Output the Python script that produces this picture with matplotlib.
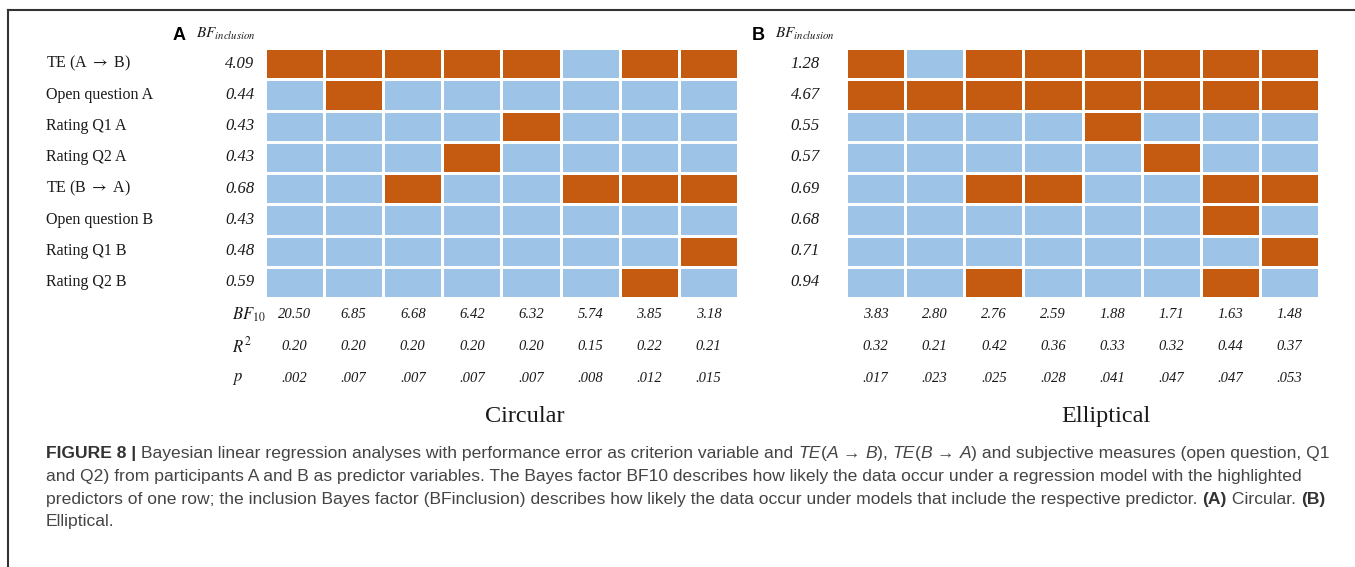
import numpy as np
import matplotlib
matplotlib.use("Agg")
import matplotlib.pyplot as plt
from matplotlib.colors import ListedColormap
from matplotlib.lines import Line2D

plt.rcParams['mathtext.fontset'] = 'stix'

# predictors (rows) and models (columns)
predictors = [r"TE (A $\rightarrow$ B)", "Open question A", "Rating Q1 A", "Rating Q2 A",
              r"TE (B $\rightarrow$ A)", "Open question B", "Rating Q1 B", "Rating Q2 B"]

# panel A: circular
incl_a = [[1, 1, 1, 1, 1, 0, 1, 1],
          [0, 1, 0, 0, 0, 0, 0, 0],
          [0, 0, 0, 0, 1, 0, 0, 0],
          [0, 0, 0, 1, 0, 0, 0, 0],
          [0, 0, 1, 0, 0, 1, 1, 1],
          [0, 0, 0, 0, 0, 0, 0, 0],
          [0, 0, 0, 0, 0, 0, 0, 1],
          [0, 0, 0, 0, 0, 0, 1, 0]]
bf_incl_a = [4.09, 0.44, 0.43, 0.43, 0.68, 0.43, 0.48, 0.59]
bf10_a = [20.50, 6.85, 6.68, 6.42, 6.32, 5.74, 3.85, 3.18]
r2_a = [0.20, 0.20, 0.20, 0.20, 0.20, 0.15, 0.22, 0.21]
p_a = [.002, .007, .007, .007, .007, .008, .012, .015]

# panel B: elliptical
incl_b = [[1, 0, 1, 1, 1, 1, 1, 1],
          [1, 1, 1, 1, 1, 1, 1, 1],
          [0, 0, 0, 0, 1, 0, 0, 0],
          [0, 0, 0, 0, 0, 1, 0, 0],
          [0, 0, 1, 1, 0, 0, 1, 1],
          [0, 0, 0, 0, 0, 0, 1, 0],
          [0, 0, 0, 0, 0, 0, 0, 1],
          [0, 0, 1, 0, 0, 0, 1, 0]]
bf_incl_b = [1.28, 4.67, 0.55, 0.57, 0.69, 0.68, 0.71, 0.94]
bf10_b = [3.83, 2.80, 2.76, 2.59, 1.88, 1.71, 1.63, 1.48]
r2_b = [0.32, 0.21, 0.42, 0.36, 0.33, 0.32, 0.44, 0.37]
p_b = [.017, .023, .025, .028, .041, .047, .047, .053]

ORANGE = '#C55A11'
BLUE = '#9DC3E6'
cmap = ListedColormap([BLUE, ORANGE])
SERIF = ['Liberation Serif', 'DejaVu Serif']
SANS = ['Liberation Sans', 'DejaVu Sans']
TXT = '#1a1a1a'

W, H = 1355, 567
fig = plt.figure(figsize=(W / 100, H / 100), dpi=100)


def fx(px):
    return px / W


def fy(py):
    return 1 - py / H


def panel(left_px, incl, bf_incl, bf10, r2, pv, title, letter, letter_px, row_names, show_row_labels):
    ax = fig.add_axes([fx(left_px), fy(298), fx(473), 250 / H])
    m = np.array(incl)
    ax.pcolormesh(np.arange(9), np.arange(9), m, cmap=cmap, vmin=0, vmax=1,
                  edgecolors='white', linewidth=1.0)
    ax.set_xlim(0, 8)
    ax.set_ylim(8, 0)
    ax.axis('off')
    ytr = ax.get_yaxis_transform()
    for i, v in enumerate(bf_incl):
        ax.text(-0.023 if show_row_labels else -0.055, i + 0.5, f"{v:.2f}", transform=ytr,
                ha='right', va='center', fontsize=12, style='italic', family=SERIF, color=TXT)
        if show_row_labels:
            ax.text(-0.463, i + 0.5, row_names[i], transform=ytr, ha='left', va='center',
                    fontsize=11.5, family=SERIF, color=TXT)
    cols = np.arange(8) + 0.5
    for j in range(8):
        ax.text(cols[j], 8.53, f"{bf10[j]:.2f}", ha='center', va='center', fontsize=10.5,
                style='italic', family=SERIF, color=TXT)
        ax.text(cols[j], 9.55, f"{r2[j]:.2f}", ha='center', va='center', fontsize=10.5,
                style='italic', family=SERIF, color=TXT)
        ax.text(cols[j], 10.57, f"{pv[j]:.3f}".lstrip('0'), ha='center', va='center',
                fontsize=10.5, style='italic', family=SERIF, color=TXT)
    if show_row_labels:
        ax.text(-0.07, 8.53, r'$BF_{10}$', transform=ytr, ha='left', va='center', fontsize=12, color=TXT)
        ax.text(-0.07, 9.55, r'$R^2$', transform=ytr, ha='left', va='center', fontsize=12, color=TXT)
        ax.text(-0.07, 10.57, r'$p$', transform=ytr, ha='left', va='center', fontsize=12, color=TXT)
    ax.text(4.39, 11.8, title, ha='center', va='center', fontsize=17.5, family=SERIF, color=TXT)
    fig.text(fx(letter_px), fy(35), letter, ha='left', va='center', fontsize=13,
             weight='bold', family=SANS, color='black')
    fig.text(fx(letter_px + 23), fy(34), r'$BF_{inclusion}$', ha='left', va='center',
             fontsize=11, color=TXT)
    return ax


panel(265, incl_a, bf_incl_a, bf10_a, r2_a, p_a, "Circular", "A", 173, predictors, True)
panel(846, incl_b, bf_incl_b, bf10_b, r2_b, p_b, "Elliptical", "B", 752, predictors, False)

# frame around figure
fig.add_artist(Line2D([fx(8), fx(8)], [fy(10), 0], transform=fig.transFigure, color='#333333', lw=1.5))
fig.add_artist(Line2D([fx(8), 1], [fy(10), fy(10)], transform=fig.transFigure, color='#333333', lw=1.5))

# caption, written segment by segment
caption = [
    [("FIGURE 8 | ", 'bold'), ("Bayesian linear regression analyses with performance error as criterion variable and ", ''),
     ("TE", 'italic'), ("(", ''), ("A", 'italic'), (" \u2192 ", ''), ("B", 'italic'), ("), ", ''),
     ("TE", 'italic'), ("(", ''), ("B", 'italic'), (" \u2192 ", ''), ("A", 'italic'),
     (") and subjective measures (open question, Q1", '')],
    [("and Q2) from participants A and B as predictor variables. The Bayes factor BF10 describes how likely the data occur under a regression model with the highlighted", '')],
    [("predictors of one row; the inclusion Bayes factor (BFinclusion) describes how likely the data occur under models that include the respective predictor. ", ''),
     ("(A)", 'bold'), (" Circular. ", ''), ("(B)", 'bold')],
    [("Elliptical.", '')],
]
line_y = [452, 475, 498, 520]
fig.canvas.draw()
renderer = fig.canvas.get_renderer()
for segs, ly in zip(caption, line_y):
    x = fx(46)
    for s, st in segs:
        kw = dict(fontsize=12.6, family=SANS, color='#444444', ha='left', va='baseline')
        if st == 'bold':
            kw['weight'] = 'bold'
            kw['color'] = '#333333'
        elif st == 'italic':
            kw['style'] = 'italic'
        t = fig.text(x, fy(ly + 6), s, **kw)
        bb = t.get_window_extent(renderer=renderer)
        x += bb.width / W

fig.savefig('out.png', dpi=100)
